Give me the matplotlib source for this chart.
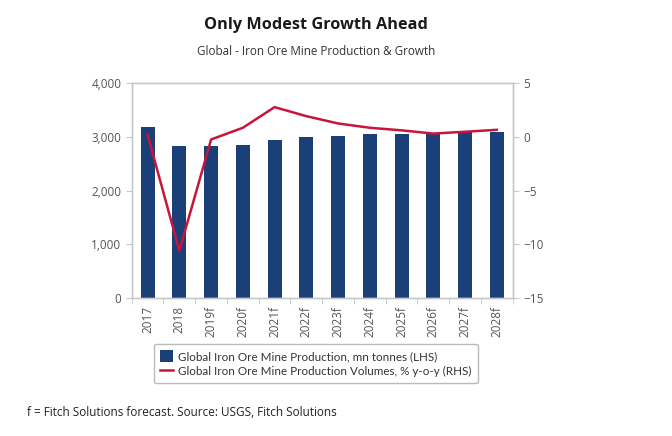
import matplotlib.pyplot as plt
import numpy as np

plt.rcParams['font.family'] = ['Open Sans', 'DejaVu Sans']

years = ['2017', '2018', '2019f', '2020f', '2021f', '2022f', '2023f',
         '2024f', '2025f', '2026f', '2027f', '2028f']
production = [3175, 2822, 2822, 2846, 2933, 2989, 3008, 3051, 3051, 3062, 3082, 3095]
growth = [0.2, -10.6, -0.25, 0.84, 2.76, 1.92, 1.24, 0.84, 0.6, 0.3, 0.47, 0.65]

navy = '#1b3f78'
red = '#c8163a'
grey = '#c8c8c8'
txt = '#555555'

fig = plt.figure(figsize=(6.72, 4.36), dpi=100)
ax = fig.add_axes([0.196, 0.3165, 0.567, 0.493])
ax2 = ax.twinx()

x = np.arange(len(years))
bars = ax.bar(x, production, width=0.44, color=navy, zorder=2,
              label='Global Iron Ore Mine Production, mn tonnes (LHS)')
line, = ax2.plot(x, growth, color=red, lw=1.8, zorder=3,
                 label='Global Iron Ore Mine Production Volumes, % y-o-y (RHS)')

ax.set_xlim(-0.5, len(years) - 0.5)
ax.set_ylim(0, 4000)
ax.set_yticks([0, 1000, 2000, 3000, 4000])
ax.set_yticklabels(['0', '1,000', '2,000', '3,000', '4,000'])
ax2.set_ylim(-15, 5)
ax2.set_yticks([-15, -10, -5, 0, 5])

ax.set_xticks(x)
ax.set_xticklabels(years, rotation=90)
ax.set_xticks(np.arange(len(years) + 1) - 0.5, minor=True)
ax.tick_params(axis='x', which='major', length=0, pad=6, labelsize=8.5, labelcolor=txt)
ax.tick_params(axis='x', which='minor', length=4, color=grey)
ax.tick_params(axis='y', length=4, color=grey, labelsize=8.5, labelcolor=txt)
ax2.tick_params(axis='y', length=4, color=grey, labelsize=8.5, labelcolor=txt)

for a in (ax, ax2):
    for s in a.spines.values():
        s.set_color(grey)
        s.set_linewidth(1.0)

fig.text(0.47, 0.943, 'Only Modest Growth Ahead', ha='center', va='center',
         fontsize=11.7, fontweight='bold', color='#1a1a1a')
fig.text(0.47, 0.881, 'Global - Iron Ore Mine Production & Growth', ha='center',
         va='center', fontsize=8.4, color='#333333')

leg = fig.legend(handles=[bars, line], loc='center', bbox_to_anchor=(0.47, 0.166),
                 prop={'family': ['Lato', 'DejaVu Sans'], 'size': 8.4},
                 frameon=True, fancybox=True, edgecolor='#aaaaaa',
                 handlelength=1.1, handleheight=1.2, handletextpad=0.5,
                 borderpad=0.5, labelspacing=0.3)
for t in leg.get_texts():
    t.set_color('#333333')

fig.text(0.04, 0.055, 'f = Fitch Solutions forecast. Source: USGS, Fitch Solutions',
         ha='left', va='center', fontsize=8.5, color='#222222')

fig.savefig('out.png', dpi=100)
